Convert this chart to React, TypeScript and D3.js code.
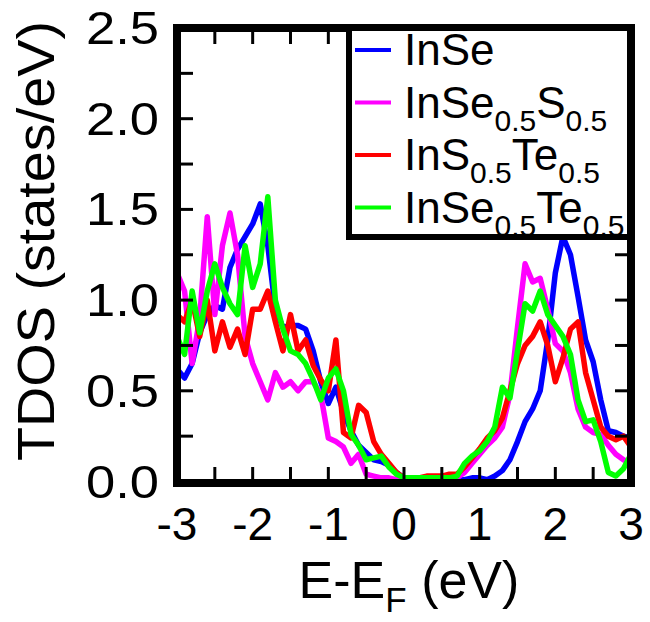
import React from "react";
import * as d3 from "d3";

// energy grid, E - E_F in eV
const energies = d3.range(-30, 31).map((i) => i / 10);

// TDOS (states/eV) at every 0.1 eV
const inSe = [
  0.62, 0.57, 0.65, 0.82, 0.92, 0.97, 0.95, 1.18, 1.28, 1.35, 1.42, 1.53, 1.3, 0.95, 0.85, 0.86, 0.86, 0.84, 0.72, 0.55, 0.43,
  0.52, 0.38, 0.28, 0.2, 0.16, 0.12, 0.11, 0.09, 0.05, 0.02, 0.01, 0.01, 0.01, 0.01, 0.01, 0.01, 0.01, 0.01, 0.02, 0.02,
  0.01, 0.03, 0.06, 0.12, 0.22, 0.33, 0.4, 0.5, 0.78, 1.15, 1.35, 1.25, 1.02, 0.78, 0.66, 0.45, 0.28, 0.27, 0.25, 0.24,
];
const inSeS = [
  1.15, 1.05, 0.65, 0.9, 1.46, 0.92, 1.3, 1.48, 1.25, 0.8, 0.65, 0.55, 0.45, 0.6, 0.52, 0.55, 0.5, 0.55, 0.55, 0.48, 0.24,
  0.22, 0.19, 0.1, 0.15, 0.04, 0.03, 0.02, 0.02, 0.01, 0.01, 0.01, 0.01, 0.01, 0.01, 0.01, 0.01, 0.02, 0.05, 0.1, 0.15,
  0.2, 0.24, 0.3, 0.48, 0.85, 1.2, 1.1, 1.12, 0.95, 0.76, 0.72, 0.6, 0.4, 0.3, 0.27, 0.26, 0.2, 0.15, 0.12, 0.1,
];
const inSTe = [
  0.92, 0.88, 1.0, 0.8, 1.0, 0.72, 0.88, 0.74, 0.84, 0.7, 0.95, 0.95, 1.05, 0.88, 0.72, 0.92, 0.72, 0.78, 0.64, 0.56, 0.5,
  0.78, 0.27, 0.24, 0.42, 0.38, 0.22, 0.15, 0.1, 0.05, 0.02, 0.01, 0.02, 0.03, 0.03, 0.03, 0.04, 0.04, 0.08, 0.13, 0.18,
  0.24, 0.28, 0.35, 0.5, 0.65, 0.75, 0.8, 0.88, 0.75, 0.55, 0.68, 0.84, 0.88, 0.6, 0.45, 0.3, 0.25, 0.23, 0.25, 0.19,
];
const inSeTe = [
  0.8, 0.7, 1.05, 0.82, 1.05, 1.2, 1.07, 0.98, 0.92, 1.3, 1.07, 1.2, 1.57, 1.0, 0.84, 0.72, 0.7, 0.65, 0.56, 0.45, 0.57,
  0.62, 0.5, 0.26, 0.2, 0.12, 0.13, 0.14, 0.08, 0.04, 0.02, 0.02, 0.02, 0.02, 0.02, 0.02, 0.02, 0.03, 0.1, 0.14, 0.17,
  0.22, 0.3, 0.52, 0.46, 0.72, 0.98, 0.94, 1.05, 0.92, 0.86, 0.8, 0.7, 0.45, 0.33, 0.34, 0.22, 0.05, 0.03, 0.07, 0.15,
];

const seriesNames = ["InSe", "InSe0.5S0.5", "InS0.5Te0.5", "InSe0.5Te0.5"];
const seriesColors = ["#0000ff", "#ff00ff", "#ff0000", "#00ff00"];
const seriesValues = [inSe, inSeS, inSTe, inSeTe];
// legend labels as [text, subscript] pieces
const legendParts = [
  [["InSe", ""]],
  [["InSe", "0.5"], ["S", "0.5"]],
  [["InS", "0.5"], ["Te", "0.5"]],
  [["InSe", "0.5"], ["Te", "0.5"]],
];

const xTickLabels = [-3, -2, -1, 0, 1, 2, 3];
const yTickLabels = [0, 0.5, 1, 1.5, 2, 2.5];

const W = 650;
const H = 622;
const left = 177;
const right = 631;
const top = 28;
const bottom = 483;
const font = "'Liberation Sans', Arial, sans-serif";

export default function App() {
  const x = d3.scaleLinear().domain([-3, 3]).range([left, right]);
  const y = d3.scaleLinear().domain([0, 2.5]).range([bottom - 1.5, top]);

  const line = d3
    .line<number>()
    .x((_, i) => x(energies[i]))
    .y((d) => y(d));

  const xMinor = d3.range(-6, 7).map((i) => i / 2);
  const yMinor = d3.range(0, 11).map((i) => i / 4);
  const tickLen = 12;

  return (
    <svg
      width={W}
      height={H}
      style={{ position: "absolute", left: 0, top: 0, background: "#fff" }}
      fontFamily={font}
    >
      <defs>
        <clipPath id="plot">
          <rect x={left} y={top} width={right - left} height={bottom - top} />
        </clipPath>
      </defs>

      <g clipPath="url(#plot)">
        {seriesValues.map((vals, k) => (
          <path
            key={k}
            d={line(vals) || ""}
            fill="none"
            stroke={seriesColors[k]}
            strokeWidth={5.5}
            strokeLinejoin="round"
          />
        ))}
      </g>

      {/* ticks on all four sides, pointing inward */}
      {xMinor.map((v) => (
        <g key={"xt" + v} stroke="#000" strokeWidth={3}>
          <line x1={x(v)} x2={x(v)} y1={bottom} y2={bottom - tickLen - 4} />
          <line x1={x(v)} x2={x(v)} y1={top} y2={top + tickLen + 4} />
        </g>
      ))}
      {yMinor.map((v) => (
        <g key={"yt" + v} stroke="#000" strokeWidth={3}>
          <line x1={left} x2={left + tickLen + 4} y1={y(v)} y2={y(v)} />
          <line x1={right} x2={right - tickLen - 4} y1={y(v)} y2={y(v)} />
        </g>
      ))}

      <rect
        x={left}
        y={top}
        width={right - left}
        height={bottom - top}
        fill="none"
        stroke="#000"
        strokeWidth={8}
      />

      {xTickLabels.map((v) => (
        <text key={"xl" + v} x={x(v)} y={540} fontSize={46} textAnchor="middle">
          {v}
        </text>
      ))}
      {yTickLabels.map((v) => (
        <text
          key={"yl" + v}
          x={86}
          y={y(v) + 16}
          fontSize={46}
          textLength={73}
          lengthAdjust="spacingAndGlyphs"
        >
          {v.toFixed(1)}
        </text>
      ))}

      <text x={409} y={598} fontSize={52} textAnchor="middle">
        E-E<tspan fontSize={35} dy={14}>F</tspan>
        <tspan dy={-14}> (eV)</tspan>
      </text>
      <text
        transform="translate(54,241) rotate(-90)"
        fontSize={51}
        textAnchor="middle"
        textLength={440}
        lengthAdjust="spacingAndGlyphs"
      >
        TDOS (states/eV)
      </text>

      {/* legend */}
      <rect x={349} y={28} width={281} height={209} fill="#fff" stroke="#000" strokeWidth={6} />
      {seriesNames.map((name, k) => {
        const base = 65 + k * 52.5;
        return (
          <g key={name}>
            <line x1={355} x2={391} y1={base - 15} y2={base - 15} stroke={seriesColors[k]} strokeWidth={4} />
            <text x={404} y={base} fontSize={44}>
              {legendParts[k].map(([t, s], j) => (
                <React.Fragment key={j}>
                  <tspan dy={j === 0 ? 0 : -13}>{t}</tspan>
                  {s && (
                    <tspan fontSize={30} dy={13}>
                      {s}
                    </tspan>
                  )}
                </React.Fragment>
              ))}
            </text>
          </g>
        );
      })}
    </svg>
  );
}
